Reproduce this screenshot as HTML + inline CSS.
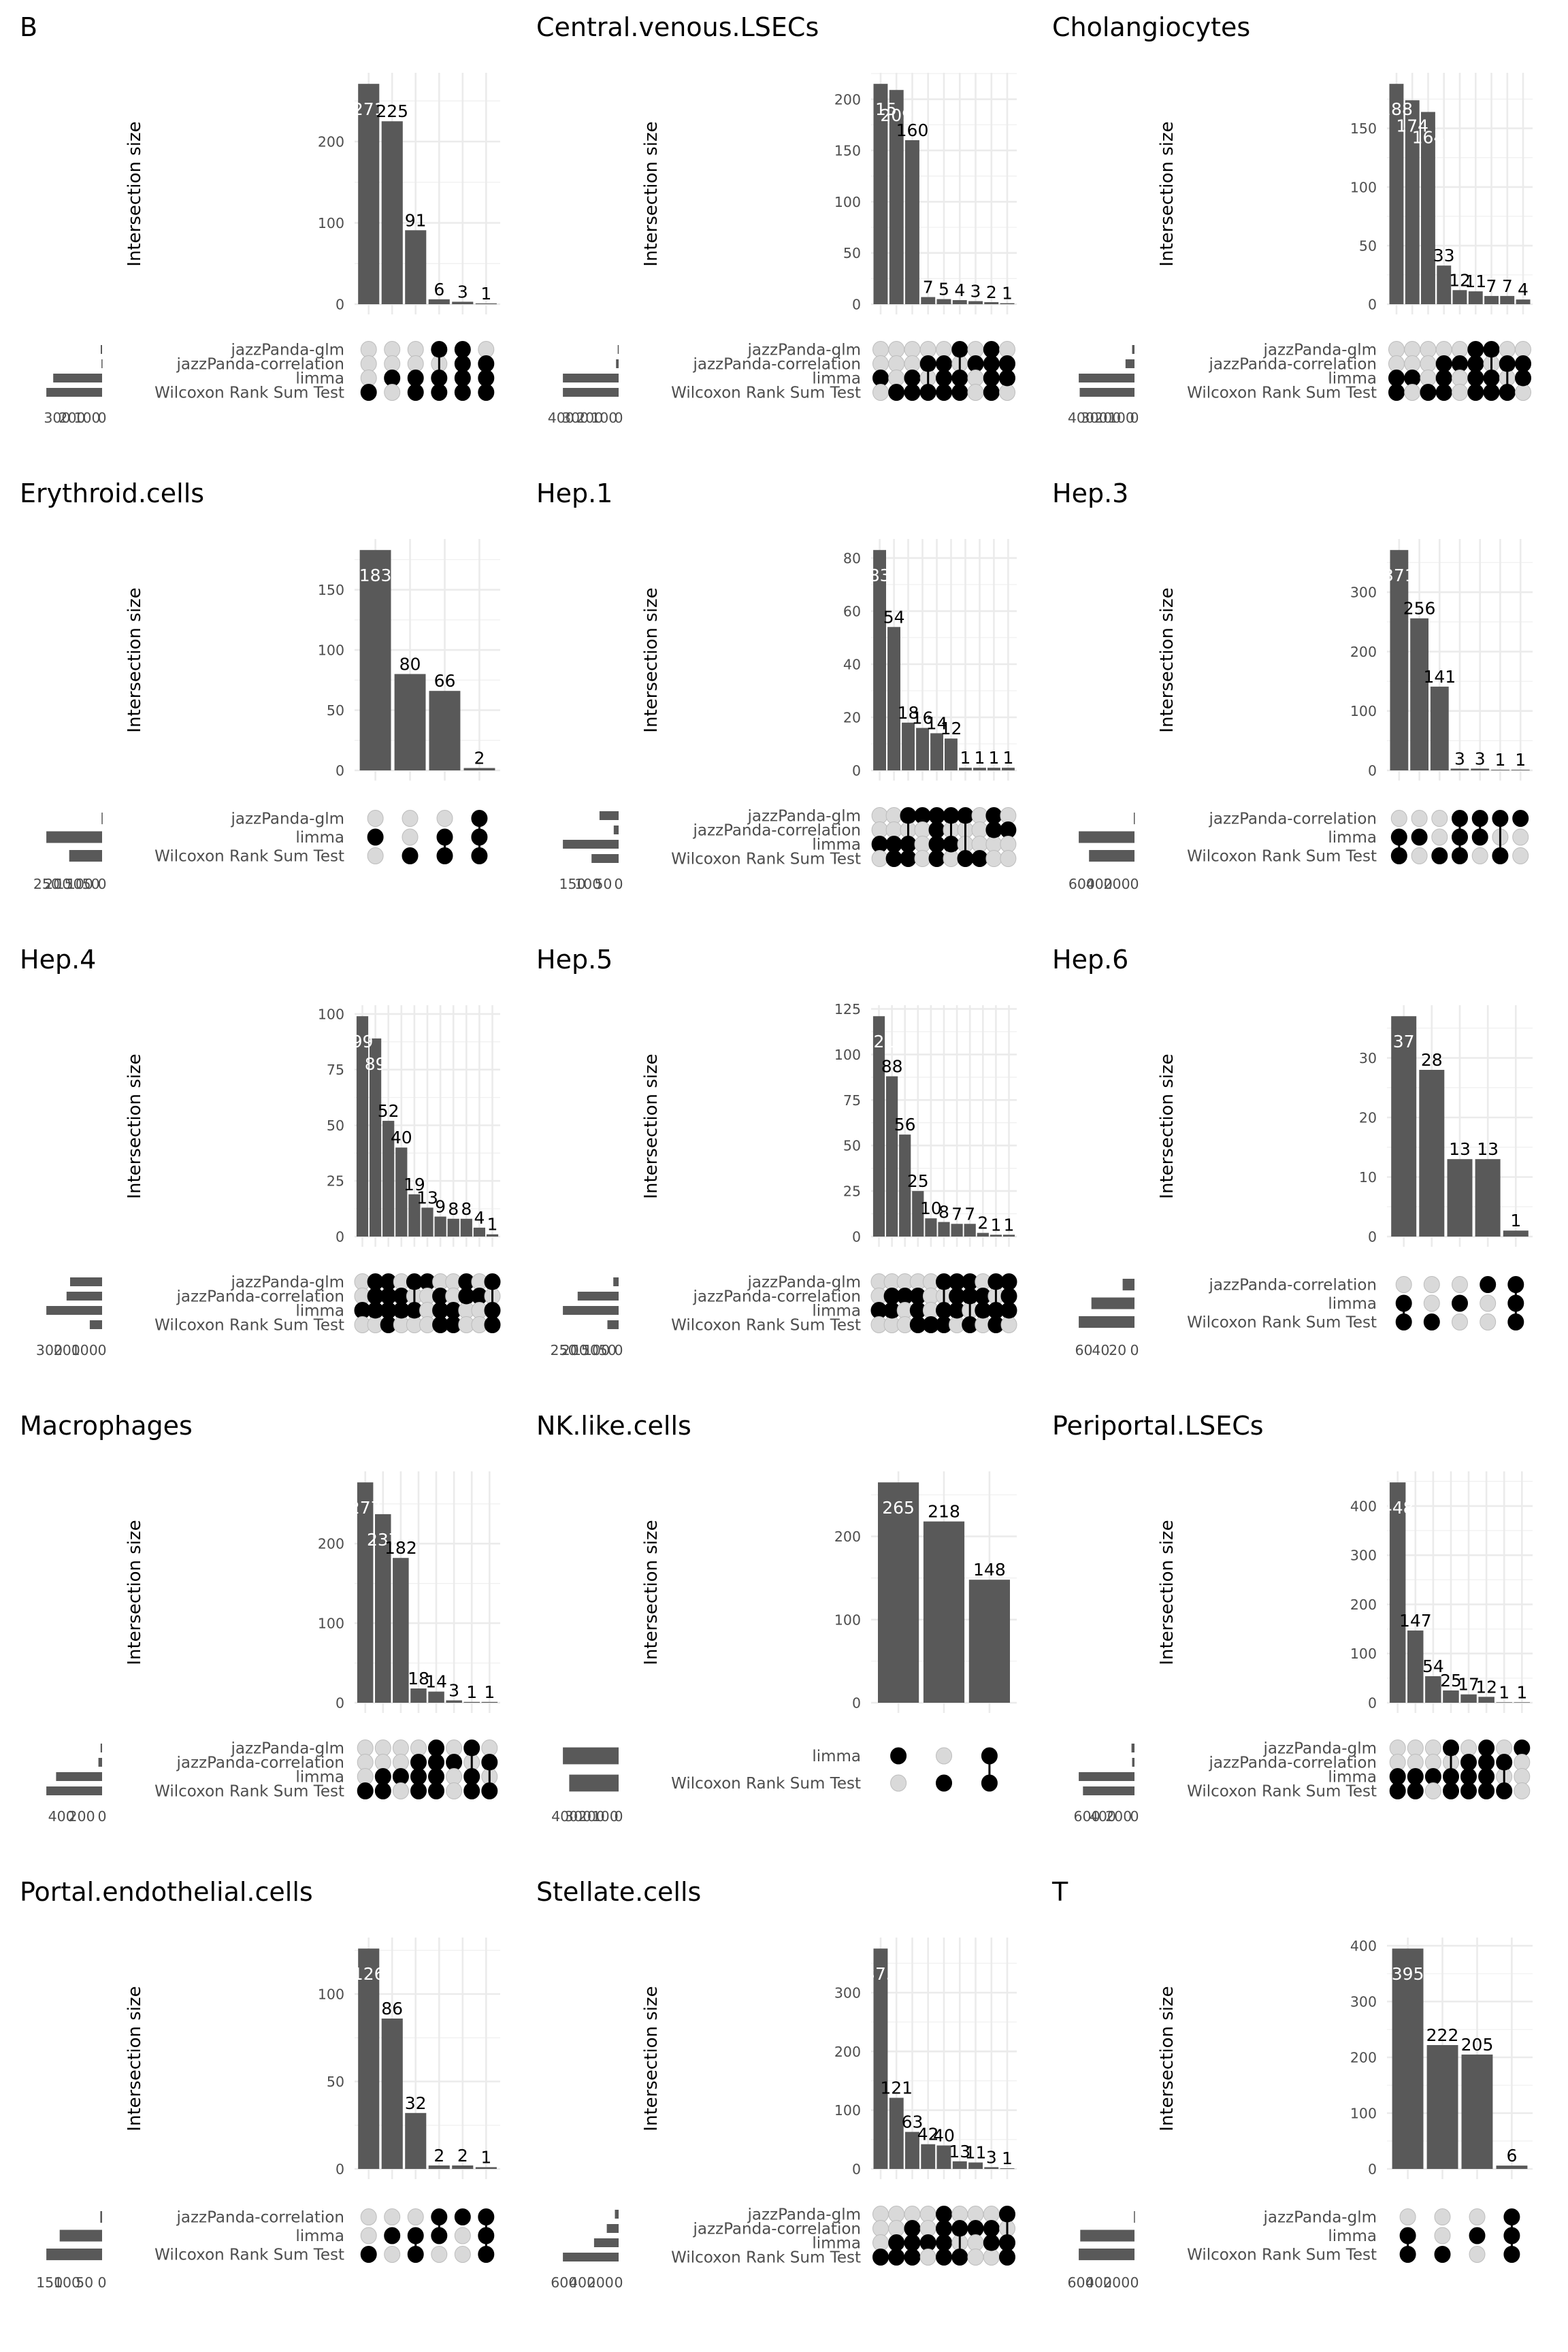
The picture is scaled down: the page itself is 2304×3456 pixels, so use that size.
<!DOCTYPE html>
<html><head><meta charset="utf-8">
<style>
html,body{margin:0;padding:0;background:#fff;}
svg{display:block;}
</style></head>
<body>
<svg id="s" xmlns="http://www.w3.org/2000/svg" width="2304" height="3456" viewBox="0 0 2304 3456" font-family="'DejaVu Sans','Liberation Sans',sans-serif"></svg>
<script>
var NAMES={g:"jazzPanda-glm",c:"jazzPanda-correlation",l:"limma",w:"Wilcoxon Rank Sum Test"};
var P=[
{t:"B",v:[271,225,91,6,3,1],m:{g:"000110",c:"000011",l:"011111",w:"101111"},ys:100,ss:100},
{t:"Central.venous.LSECs",v:[215,209,160,7,5,4,3,2,1],m:{g:"000001010",c:"000110111",l:"101011011",w:"011111010"},ys:50,ss:100},
{t:"Cholangiocytes",v:[188,174,164,33,12,11,7,7,4],m:{g:"000001100",c:"000111011",l:"110101101",w:"101101110"},ys:50,ss:100},
{t:"Erythroid.cells",v:[183,80,66,2],m:{g:"0001",l:"1011",w:"0111"},ys:50,ss:50},
{t:"Hep.1",v:[83,54,18,16,14,12,1,1,1,1],m:{g:"0011111010",c:"0000100011",l:"1110110000",w:"0110101100"},ys:20,ss:50},
{t:"Hep.3",v:[371,256,141,3,3,1,1],m:{c:"0001111",l:"1101100",w:"1011010"},ys:100,ss:200},
{t:"Hep.4",v:[99,89,52,40,19,13,9,8,8,4,1],m:{g:"01101100101",c:"01110010110",l:"11111011001",w:"00100011001"},ys:25,ss:100},
{t:"Hep.5",v:[121,88,56,25,10,8,7,7,2,1,1],m:{g:"00000111011",c:"01110011101",l:"11010110111",w:"00011101010"},ys:25,ss:50},
{t:"Hep.6",v:[37,28,13,13,1],m:{c:"00011",l:"10101",w:"11001"},ys:10,ss:20},
{t:"Macrophages",v:[277,237,182,18,14,3,1,1],m:{g:"00001010",c:"00011101",l:"01111010",w:"11011011"},ys:100,ss:200},
{t:"NK.like.cells",v:[265,218,148],m:{l:"101",w:"011"},ys:100,ss:100},
{t:"Periportal.LSECs",v:[448,147,54,25,17,12,1,1],m:{g:"00010101",c:"00001110",l:"11111100",w:"11011110"},ys:100,ss:200},
{t:"Portal.endothelial.cells",v:[126,86,32,2,2,1],m:{c:"000111",l:"011101",w:"101001"},ys:50,ss:50},
{t:"Stellate.cells",v:[375,121,63,42,40,13,11,3,1],m:{g:"000010001",c:"001011110",l:"011110011",w:"111011001"},ys:100,ss:200},
{t:"T",v:[395,222,205,6],m:{g:"0001",l:"1011",w:"1101"},ys:100,ss:200}
];
var COLX=[0,759,1517], ROWH=685;
var out=[];
function r(n){return Math.round(n*10)/10;}
P.forEach(function(p,idx){
  var tx=COLX[idx%3], ox=tx-4, oy=Math.floor(idx/3)*ROWH-4;
  var n=p.v.length, L=ox+525, W=214, s=W/(n+0.2);
  var top=oy+111, zero=oy+451, gb=oy+466;
  var mx=Math.max.apply(null,p.v), ylim=mx*1.05, k=(zero-top)/ylim;
  out.push('<text x="'+(tx+29)+'" y="'+(oy+57)+'" font-size="38" fill="#000">'+p.t+'</text>');
  var lx=ox+201, ly=oy+289;
  out.push('<text x="'+lx+'" y="'+ly+'" font-size="26" fill="#000" text-anchor="middle" transform="rotate(-90 '+lx+' '+ly+')" dy="9">Intersection size</text>');
  for(var t=p.ys/2;t<=ylim;t+=p.ys){
    var y=zero-t*k; out.push('<line x1="'+L+'" x2="'+(L+W)+'" y1="'+r(y)+'" y2="'+r(y)+'" stroke="#f0f0f0" stroke-width="1.3"/>');
  }
  for(var t=0;t<=ylim+0.001;t+=p.ys){
    var y=zero-t*k;
    out.push('<line x1="'+L+'" x2="'+(L+W)+'" y1="'+r(y)+'" y2="'+r(y)+'" stroke="#ebebeb" stroke-width="2.6"/>');
    out.push('<text x="'+(ox+510)+'" y="'+r(y+7.5)+'" font-size="20.5" fill="#4d4d4d" text-anchor="end">'+t+'</text>');
  }
  var cx=[];
  for(var i=0;i<n;i++){cx.push(L+(0.6+i)*s);
    out.push('<line x1="'+r(cx[i])+'" x2="'+r(cx[i])+'" y1="'+top+'" y2="'+gb+'" stroke="#ebebeb" stroke-width="2.6"/>');}
  for(var i=0;i<n;i++){
    var h=p.v[i]*k, bw=s*0.9;
    out.push('<rect x="'+r(cx[i]-bw/2)+'" y="'+r(zero-h)+'" width="'+r(bw)+'" height="'+r(h)+'" fill="#595959"/>');
  }
  for(var i=0;i<n;i++){
    var h=p.v[i]*k, inside=p.v[i]>0.85*mx;
    var y=inside?(zero-h+46):(zero-h-6);
    out.push('<text x="'+r(cx[i])+'" y="'+r(y)+'" font-size="25" fill="'+(inside?'#fff':'#000')+'" text-anchor="middle">'+p.v[i]+'</text>');
  }
  var keys=['g','c','l','w'].filter(function(q){return p.m[q];});
  var ns=keys.length, sp={2:40,3:27.5,4:21}[ns], c0=oy+549-(ns-1)*sp/2;
  var sizes=keys.map(function(q){var a=0;for(var i=0;i<n;i++)if(p.m[q][i]=='1')a+=p.v[i];return a;});
  var smax=Math.max.apply(null,sizes), sk=86/(smax*1.05), SR=ox+154;
  keys.forEach(function(q,j){
    var y=c0+j*sp;
    out.push('<text x="'+(ox+510)+'" y="'+r(y+8)+'" font-size="23" fill="#4d4d4d" text-anchor="end">'+NAMES[q]+'</text>');
    var bh=sp*0.62, bl=sizes[j]*sk;
    out.push('<rect x="'+r(SR-bl)+'" y="'+r(y-bh/2)+'" width="'+r(Math.max(bl,1.5))+'" height="'+r(bh)+'" fill="#595959"/>');
  });
  for(var t=0;t<=smax*1.05;t+=p.ss){
    out.push('<text x="'+r(SR-t*sk)+'" y="'+(oy+625)+'" font-size="20.5" fill="#4d4d4d" text-anchor="middle">'+t+'</text>');
  }
  for(var i=0;i<n;i++){
    var f=[];
    keys.forEach(function(q,j){
      var y=c0+j*sp, on=p.m[q][i]=='1';
      if(on)f.push(y);
      out.push('<ellipse cx="'+r(cx[i])+'" cy="'+r(y)+'" rx="11.5" ry="12" fill="'+(on?'#000':'#d9d9d9')+'" stroke="'+(on?'#000':'#bdbdbd')+'" stroke-width="1"/>');
    });
    if(f.length>1){
      out.push('<line x1="'+r(cx[i])+'" x2="'+r(cx[i])+'" y1="'+r(f[0])+'" y2="'+r(f[f.length-1])+'" stroke="#000" stroke-width="3"/>');
      keys.forEach(function(q,j){var y=c0+j*sp;if(p.m[q][i]=='1')out.push('<ellipse cx="'+r(cx[i])+'" cy="'+r(y)+'" rx="11.5" ry="12" fill="#000"/>');});
    }
  }
});
document.getElementById('s').innerHTML=out.join('');
</script>
</body></html>
